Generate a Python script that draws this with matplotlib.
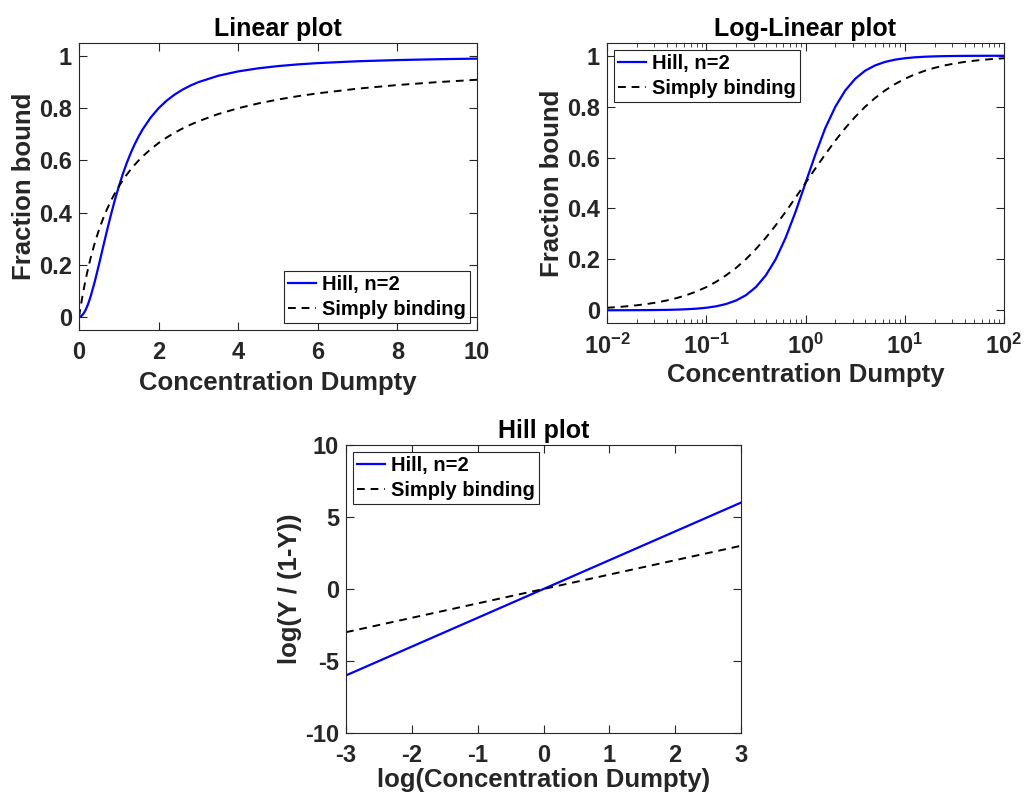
import numpy as np
import matplotlib
matplotlib.use('Agg')
import matplotlib.pyplot as plt
from matplotlib.ticker import LogLocator, NullFormatter

plt.rcParams['font.family'] = ['Liberation Sans', 'DejaVu Sans']
plt.rcParams['font.weight'] = 'bold'
plt.rcParams['axes.unicode_minus'] = False
plt.rcParams['mathtext.fontset'] = 'custom'
plt.rcParams['mathtext.rm'] = 'Liberation Sans:bold'
plt.rcParams['mathtext.it'] = 'Liberation Sans:bold'
plt.rcParams['mathtext.bf'] = 'Liberation Sans:bold'

# linear plot values
conc_lin = [0, 0.05, 0.1, 0.15, 0.2, 0.25, 0.3, 0.4, 0.5, 0.6, 0.7, 0.8, 0.9, 1.0, 1.1, 1.2, 1.3,
            1.4, 1.5, 1.6, 1.8, 2.0, 2.2, 2.4, 2.6, 2.8, 3.0, 3.5, 4.0, 4.5, 5.0, 5.5, 6, 7, 8, 9, 10]
hill_lin = [0, 0.0025, 0.0099, 0.022, 0.0385, 0.0588, 0.0826, 0.1379, 0.2, 0.2647, 0.3289, 0.3902,
            0.4475, 0.5, 0.5475, 0.5902, 0.6283, 0.6622, 0.6923, 0.7191, 0.7642, 0.8, 0.8288,
            0.8521, 0.8711, 0.8869, 0.9, 0.9245, 0.9412, 0.9529, 0.9615, 0.968, 0.973, 0.98,
            0.9846, 0.9878, 0.9901]
simple_lin = [0, 0.0476, 0.0909, 0.1304, 0.1667, 0.2, 0.2308, 0.2857, 0.3333, 0.375, 0.4118, 0.4444,
              0.4737, 0.5, 0.5238, 0.5455, 0.5652, 0.5833, 0.6, 0.6154, 0.6429, 0.6667, 0.6875,
              0.7059, 0.7222, 0.7368, 0.75, 0.7778, 0.8, 0.8182, 0.8333, 0.8462, 0.8571, 0.875,
              0.8889, 0.9, 0.9091]

# log-linear plot values
conc_log = [0.01, 0.0126, 0.0158, 0.02, 0.0251, 0.0316, 0.0398, 0.0501, 0.0631, 0.0794,
            0.1, 0.126, 0.158, 0.2, 0.251, 0.316, 0.398, 0.501, 0.631, 0.794,
            1.0, 1.26, 1.58, 2.0, 2.51, 3.16, 3.98, 5.01, 6.31, 7.94,
            10.0, 12.6, 15.8, 20.0, 25.1, 31.6, 39.8, 50.1, 63.1, 79.4, 100.0]
hill_log = [0.0001, 0.00016, 0.00025, 0.0004, 0.00063, 0.001, 0.00158, 0.0025, 0.004, 0.0063,
            0.0099, 0.0156, 0.0245, 0.0385, 0.0593, 0.0909, 0.137, 0.2006, 0.285, 0.387,
            0.5, 0.613, 0.715, 0.8, 0.863, 0.909, 0.941, 0.9617, 0.9755, 0.9844,
            0.9901, 0.9937, 0.996, 0.9975, 0.9984, 0.999, 0.99937, 0.9996, 0.99975, 0.99984, 0.9999]
simple_log = [0.0099, 0.0124, 0.0156, 0.0196, 0.0245, 0.0306, 0.0383, 0.0477, 0.0594, 0.0736,
              0.0909, 0.112, 0.137, 0.1667, 0.2006, 0.2403, 0.2847, 0.3338, 0.3869, 0.4426,
              0.5, 0.5575, 0.6124, 0.6667, 0.7151, 0.7596, 0.7992, 0.8336, 0.8632, 0.8881,
              0.9091, 0.9265, 0.9405, 0.9524, 0.9617, 0.9693, 0.9755, 0.9804, 0.9844, 0.9876, 0.9901]

# Hill plot (straight lines)
log_conc = [-3, 3]
hill_logit = [-6, 6]
simple_logit = [-3, 3]

labels = ['Hill, n=2', 'Simply binding']
blue = '#0000ff'
dark = '#262626'


def style(ax):
    ax.tick_params(direction='in', top=True, right=True, labelsize=17, length=6, width=0.8,
                   colors=dark)
    ax.tick_params(axis='x', pad=8)
    ax.tick_params(axis='y', pad=5)
    ax.tick_params(which='minor', direction='in', top=True, right=True, length=3, width=0.6,
                   colors=dark)
    for s in ax.spines.values():
        s.set_color(dark)
        s.set_linewidth(0.8)
    for lab in ax.get_xticklabels() + ax.get_yticklabels():
        lab.set_fontweight('bold')


def legend(ax, loc):
    lg = ax.legend(labels, loc=loc, fontsize=14.5, handlelength=1.4, handletextpad=0.3,
                   borderpad=0.2, labelspacing=0.3, fancybox=False, framealpha=1,
                   borderaxespad=0.35)
    lg.get_frame().set_edgecolor(dark)
    lg.get_frame().set_linewidth(0.8)
    for t in lg.get_texts():
        t.set_fontweight('bold')


fig = plt.figure(figsize=(10.24, 7.96), dpi=100)
W, H = 1024, 796


def add_axes(l, t, r, b):
    return fig.add_axes([l / W, 1 - b / H, (r - l) / W, (b - t) / H])


# Linear plot
ax1 = add_axes(79, 43, 477, 330)
ax1.plot(conc_lin, hill_lin, color=blue, lw=1.6)
ax1.plot(conc_lin, simple_lin, color='k', lw=1.4, ls=(0, (4, 3)))
ax1.set_xlim(0, 10)
ax1.set_ylim(-0.05, 1.05)
ax1.set_xticks([0, 2, 4, 6, 8, 10])
ax1.set_yticks([0, 0.2, 0.4, 0.6, 0.8, 1])
ax1.set_yticklabels(['0', '0.2', '0.4', '0.6', '0.8', '1'])
ax1.set_title('Linear plot', fontsize=18, fontweight='bold', pad=5)
ax1.set_xlabel('Concentration Dumpty', fontsize=18.5, fontweight='bold', color=dark, labelpad=5)
ax1.set_ylabel('Fraction bound', fontsize=18.5, fontweight='bold', color=dark, labelpad=2)
style(ax1)
legend(ax1, 'lower right')

# Log-Linear plot
ax2 = add_axes(607, 43, 1004, 323)
ax2.plot(conc_log, hill_log, color=blue, lw=1.6)
ax2.plot(conc_log, simple_log, color='k', lw=1.4, ls=(0, (4, 3)))
ax2.set_xscale('log')
ax2.set_xlim(0.01, 100)
ax2.set_ylim(-0.05, 1.05)
ax2.set_yticks([0, 0.2, 0.4, 0.6, 0.8, 1])
ax2.set_yticklabels(['0', '0.2', '0.4', '0.6', '0.8', '1'])
ax2.xaxis.set_major_locator(LogLocator(base=10, numticks=10))
ax2.xaxis.set_minor_locator(LogLocator(base=10, subs=np.arange(2, 10), numticks=20))
ax2.xaxis.set_minor_formatter(NullFormatter())
ax2.set_title('Log-Linear plot', fontsize=18, fontweight='bold', pad=5)
ax2.set_xlabel('Concentration Dumpty', fontsize=18.5, fontweight='bold', color=dark, labelpad=3)
ax2.set_ylabel('Fraction bound', fontsize=18.5, fontweight='bold', color=dark, labelpad=2)
style(ax2)
legend(ax2, 'upper left')

# Hill plot
ax3 = add_axes(346, 445, 741, 733)
ax3.plot(log_conc, hill_logit, color=blue, lw=1.6)
ax3.plot(log_conc, simple_logit, color='k', lw=1.4, ls=(0, (4, 3)))
ax3.set_xlim(-3, 3)
ax3.set_ylim(-10, 10)
ax3.set_xticks([-3, -2, -1, 0, 1, 2, 3])
ax3.set_yticks([-10, -5, 0, 5, 10])
ax3.set_title('Hill plot', fontsize=18, fontweight='bold', pad=5)
ax3.set_xlabel('log(Concentration Dumpty)', fontsize=18.5, fontweight='bold', color=dark, labelpad=1)
ax3.set_ylabel('log(Y / (1-Y))', fontsize=18.5, fontweight='bold', color=dark, labelpad=2)
style(ax3)
legend(ax3, 'upper left')

fig.savefig('out.png', dpi=100)
